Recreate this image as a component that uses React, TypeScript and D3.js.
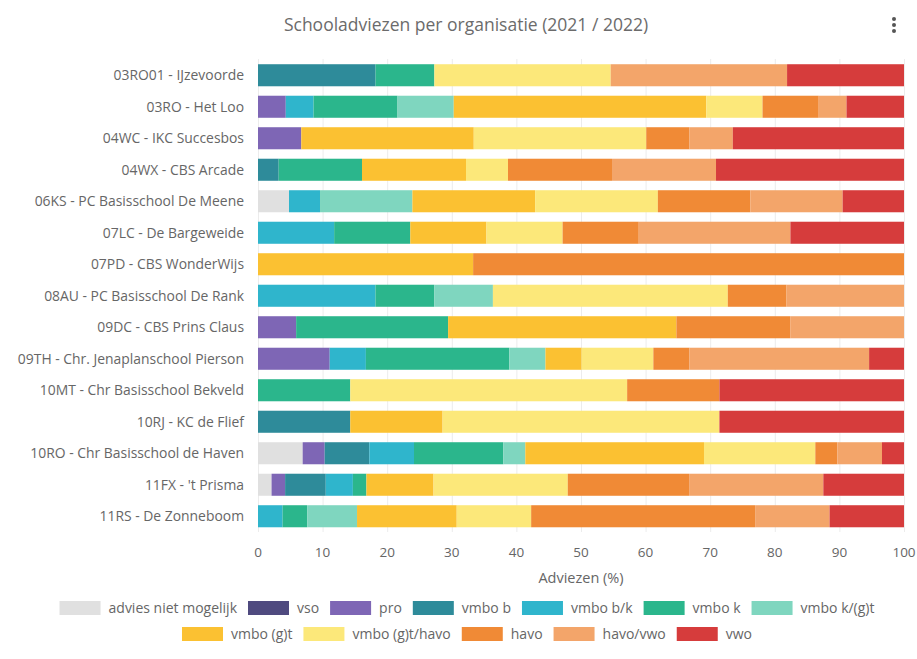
import React, { useEffect, useRef } from "react";
import * as d3 from "d3";

const categories = [
  "03RO01 - IJzevoorde",
  "03RO - Het Loo",
  "04WC - IKC Succesbos",
  "04WX - CBS Arcade",
  "06KS - PC Basisschool De Meene",
  "07LC - De Bargeweide",
  "07PD - CBS WonderWijs",
  "08AU - PC Basisschool De Rank",
  "09DC - CBS Prins Claus",
  "09TH - Chr. Jenaplanschool Pierson",
  "10MT - Chr Basisschool Bekveld",
  "10RJ - KC de Flief",
  "10RO - Chr Basisschool de Haven",
  "11FX - 't Prisma",
  "11RS - De Zonneboom",
];

const seriesNames = [
  "advies niet mogelijk",
  "vso",
  "pro",
  "vmbo b",
  "vmbo b/k",
  "vmbo k",
  "vmbo k/(g)t",
  "vmbo (g)t",
  "vmbo (g)t/havo",
  "havo",
  "havo/vwo",
  "vwo",
];

const seriesColors = [
  "#e0e0e0",
  "#4f4a7f",
  "#7e66b5",
  "#2e8b9a",
  "#2fb5cc",
  "#2bb68c",
  "#7fd6bf",
  "#fbc132",
  "#fce87a",
  "#f08a36",
  "#f3a56a",
  "#d63c3c",
];

// values (%) per series, one per category (in category order)
const adviesNietMogelijk = [0, 0, 0, 0, 4.8, 0, 0, 0, 0, 0, 0, 0, 6.9, 2.1, 0];
const vso = [0, 0, 0, 0, 0, 0, 0, 0, 0, 0, 0, 0, 0, 0, 0];
const pro = [0, 4.3, 6.7, 0, 0, 0, 0, 0, 5.9, 11.1, 0, 0, 3.4, 2.1, 0];
const vmboB = [18.2, 0, 0, 3.2, 0, 0, 0, 0, 0, 0, 0, 14.3, 6.9, 6.3, 0];
const vmboBK = [0, 4.3, 0, 0, 4.8, 11.8, 0, 18.2, 0, 5.6, 0, 0, 6.9, 4.2, 3.8];
const vmboK = [9.1, 13.0, 0, 12.9, 0, 11.8, 0, 9.1, 23.5, 22.2, 14.3, 0, 13.8, 2.1, 3.8];
const vmboKGT = [0, 8.7, 0, 0, 14.3, 0, 0, 9.1, 0, 5.6, 0, 0, 3.4, 0, 7.7];
const vmboGT = [0, 39.1, 26.7, 16.1, 19.0, 11.8, 33.3, 0, 35.3, 5.6, 0, 14.3, 27.6, 10.4, 15.4];
const vmboGTHavo = [27.3, 8.7, 26.7, 6.5, 19.0, 11.8, 0, 36.4, 0, 11.1, 42.9, 42.9, 17.2, 20.8, 11.5];
const havo = [0, 8.7, 6.7, 16.1, 14.3, 11.8, 66.7, 9.1, 17.6, 5.6, 14.3, 0, 3.4, 18.8, 34.6];
const havoVwo = [27.3, 4.3, 6.7, 16.1, 14.3, 23.5, 0, 18.2, 17.6, 27.8, 0, 0, 6.9, 20.8, 11.5];
const vwo = [18.1, 8.9, 26.5, 29.1, 9.5, 17.6, 0, 0, 0, 5.4, 28.6, 28.6, 3.4, 12.5, 11.5];

const seriesValues = [
  adviesNietMogelijk, vso, pro, vmboB, vmboBK, vmboK, vmboKGT,
  vmboGT, vmboGTHavo, havo, havoVwo, vwo,
];

const xTicks = [0, 10, 20, 30, 40, 50, 60, 70, 80, 90, 100];

const legendRows = [
  [0, 1, 2, 3, 4, 5, 6],
  [7, 8, 9, 10, 11],
];

const W = 917;
const H = 659;
const FONT = "'Open Sans', 'DejaVu Sans', sans-serif";

export default function App() {
  const ref = useRef<SVGSVGElement | null>(null);

  useEffect(() => {
    const svg = d3.select(ref.current);
    svg.selectAll("*").remove();

    const x = d3.scaleLinear().domain([0, 100]).range([258, 904]);
    const y = d3
      .scaleBand<string>()
      .domain(categories)
      .range([59.5, 532])
      .paddingInner(0.3)
      .paddingOuter(0.15);

    svg
      .append("rect")
      .attr("width", W)
      .attr("height", H)
      .attr("fill", "#ffffff");

    // title
    svg
      .append("text")
      .attr("x", 466)
      .attr("y", 31)
      .attr("text-anchor", "middle")
      .attr("font-family", FONT)
      .attr("font-size", 17.5)
      .attr("fill", "#6b6b6b")
      .text("Schooladviezen per organisatie (2021 / 2022)");

    // menu dots
    [19, 25, 31].forEach((cy) =>
      svg.append("circle").attr("cx", 894).attr("cy", cy).attr("r", 2).attr("fill", "#555")
    );

    // grid
    svg
      .append("g")
      .selectAll("line")
      .data(xTicks)
      .join("line")
      .attr("x1", (d) => x(d) + 0.5)
      .attr("x2", (d) => x(d) + 0.5)
      .attr("y1", 59)
      .attr("y2", 532)
      .attr("stroke", "#ececec")
      .attr("stroke-width", 1);

    // stacked data (percent stacking: each row normalised to 100%)
    const rows = categories.map((c, i) => {
      const o: Record<string, number | string> = { cat: c };
      seriesNames.forEach((s, j) => (o[s] = seriesValues[j][i]));
      return o;
    });
    const stack = d3.stack<any>().keys(seriesNames).offset(d3.stackOffsetExpand);
    const stacked = stack(rows as any);

    const g = svg.append("g");
    stacked.forEach((layer, j) => {
      g.append("g")
        .attr("fill", seriesColors[j])
        .selectAll("rect")
        .data(layer.filter((d) => d[1] - d[0] > 0))
        .join("rect")
        .attr("x", (d) => x(d[0] * 100))
        .attr("width", (d) => Math.max(0, x(d[1] * 100) - x(d[0] * 100)))
        .attr("y", (d) => y(d.data.cat as string)!)
        .attr("height", y.bandwidth());
    });

    // category labels
    svg
      .append("g")
      .selectAll("text")
      .data(categories)
      .join("text")
      .attr("x", 244)
      .attr("y", (d) => y(d)! + y.bandwidth() / 2)
      .attr("dy", "0.35em")
      .attr("text-anchor", "end")
      .attr("font-family", FONT)
      .attr("font-size", 13.9)
      .attr("fill", "#666")
      .text((d) => d);

    // x tick labels
    svg
      .append("g")
      .selectAll("text")
      .data(xTicks)
      .join("text")
      .attr("x", (d) => x(d))
      .attr("y", 552)
      .attr("dy", "0.35em")
      .attr("text-anchor", "middle")
      .attr("font-family", FONT)
      .attr("font-size", 13.5)
      .attr("fill", "#666")
      .text((d) => String(d));

    svg
      .append("text")
      .attr("x", 581)
      .attr("y", 578)
      .attr("dy", "0.35em")
      .attr("text-anchor", "middle")
      .attr("font-family", FONT)
      .attr("font-size", 14.5)
      .attr("fill", "#666")
      .text("Adviezen (%)");

    // legend
    const swW = 41;
    const swH = 14;
    const gapText = 8;
    const gapItem = 11;
    const rowY = [608, 634];
    legendRows.forEach((row, r) => {
      const lg = svg.append("g");
      let cx = 0;
      row.forEach((si) => {
        const item = lg.append("g").attr("transform", `translate(${cx},0)`);
        item
          .append("rect")
          .attr("x", 0)
          .attr("y", rowY[r] - swH / 2)
          .attr("width", swW)
          .attr("height", swH)
          .attr("fill", seriesColors[si]);
        const t = item
          .append("text")
          .attr("x", swW + gapText)
          .attr("y", rowY[r])
          .attr("dy", "0.35em")
          .attr("font-family", FONT)
          .attr("font-size", 14)
          .attr("fill", "#666")
          .text(seriesNames[si]);
        const tw = (t.node() as SVGTextElement).getComputedTextLength();
        cx += swW + gapText + tw + gapItem;
      });
      const total = cx - gapItem;
      lg.attr("transform", `translate(${467 - total / 2},0)`);
    });
  }, []);

  return (
    <svg
      ref={ref}
      width={W}
      height={H}
      style={{ position: "absolute", left: 0, top: 0, display: "block" }}
    />
  );
}
